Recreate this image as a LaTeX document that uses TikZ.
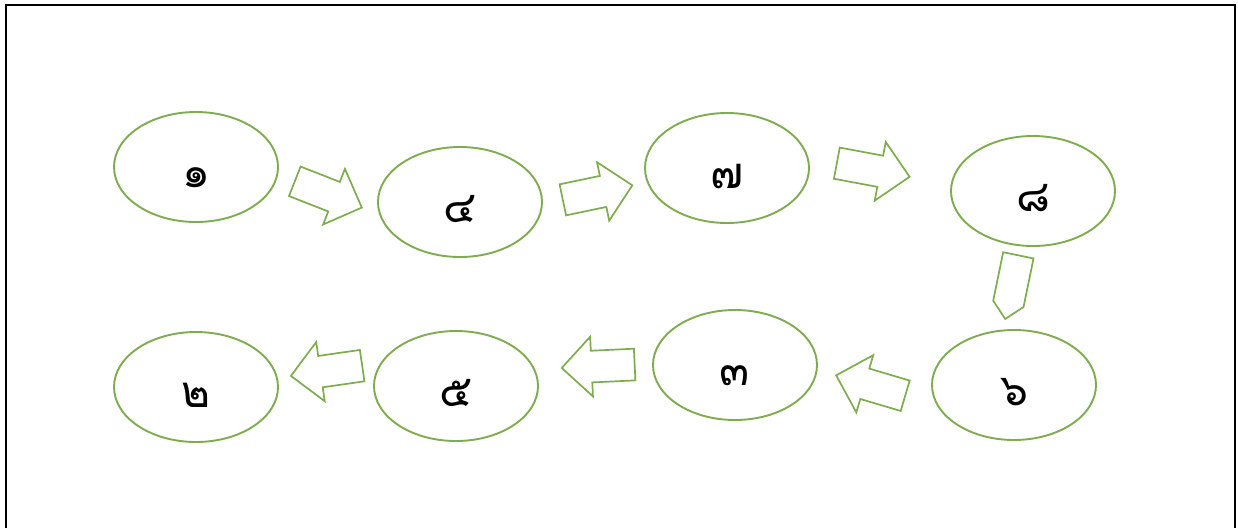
\documentclass[tikz,border=0pt]{standalone}
\usepackage{fontspec}
\newfontfamily\thaifont[Script=Thai]{Loma}
\usetikzlibrary{shapes.geometric,shapes.arrows}
\definecolor{lgreen}{RGB}{126,172,78}
\tikzset{
  oval/.style={ellipse,draw=lgreen,line width=1.9pt,fill=white,minimum width=164pt,minimum height=110pt,inner sep=0pt,
    font=\thaifont\fontsize{44}{48}\selectfont,text height=40pt,text depth=0pt},
  blockarrow/.style={single arrow,draw=lgreen,line width=1.7pt,fill=white,inner xsep=0pt,inner ysep=15pt,
    minimum width=58pt,single arrow head extend=14pt,minimum height=72pt,text height=0pt,text depth=0pt,anchor=tail},
  pentarrow/.style={single arrow,draw=lgreen,line width=1.7pt,fill=white,inner sep=0pt,
    minimum width=31pt,single arrow head extend=0pt,minimum height=65pt,text height=0pt,text depth=0pt,anchor=tail}
}
\begin{document}
\begin{tikzpicture}[x=1pt,y=-1pt]
\useasboundingbox (0,0) rectangle (1238,528);
\draw[line width=2.2pt,black] (6,528) -- (6,5) -- (1235,5) -- (1235,528);
\node[oval] (e1) at (196,167) {๑};
\node[oval] (e4) at (460,202) {๔};
\node[oval] (e7) at (727,168) {๗};
\node[oval] (e8) at (1033,191) {๘};
\node[oval] (e6) at (1014,385) {๖};
\node[oval] (e3) at (735,365) {๓};
\node[oval] (e5) at (456,386) {๕};
\node[oval] (e2) at (196,387) {๒};
\node[blockarrow,rotate=-21.4] (a1) at (294,181) {};
\node[blockarrow,rotate=11.8,minimum height=71pt] (a2) at (562,200) {};
\node[blockarrow,rotate=-10.6,minimum height=74pt] (a3) at (836,163) {};
\node[pentarrow,rotate=-101.6] (a4) at (1018.5,254.5) {};
\node[blockarrow,rotate=163.5] (a5) at (906,396) {};
\node[blockarrow,rotate=182.7,minimum height=73pt] (a6) at (635.5,364.5) {};
\node[blockarrow,rotate=188.2] (a7) at (363,365.5) {};
\end{tikzpicture}
\end{document}
